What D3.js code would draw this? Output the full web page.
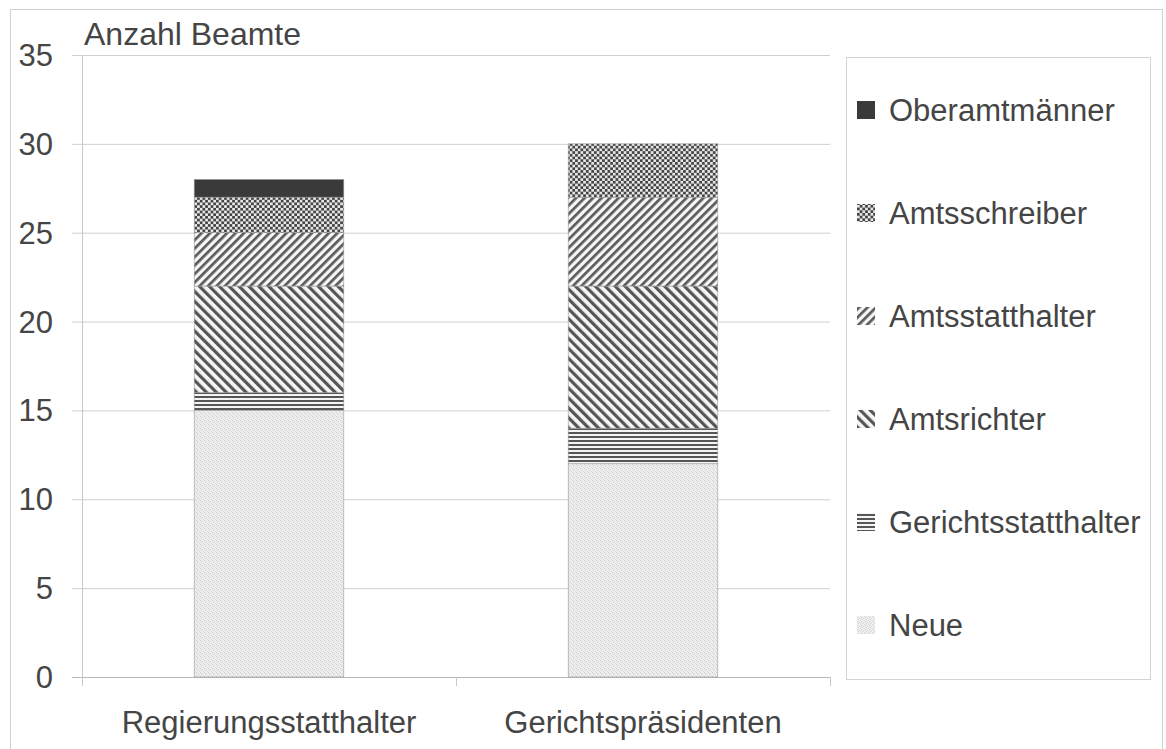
<!DOCTYPE html>
<html>
<head>
<meta charset="utf-8">
<script src="https://cdn.jsdelivr.net/npm/d3@7"></script>
<style>
  body { margin: 0; background: #fff; }
  svg text { font-family: "Liberation Sans", Arial, sans-serif; fill: #454545; }
</style>
</head>
<body>
<div id="chart"></div>
<script>
/* chart data */
var categories = ["Regierungsstatthalter", "Gerichtspräsidenten"];
var series_Names = ["Neue", "Gerichtsstatthalter", "Amtsrichter", "Amtsstatthalter", "Amtsschreiber", "Oberamtmänner"];
var neue = [15, 12];
var gerichtsstatthalter = [1, 2];
var amtsrichter = [6, 8];
var amtsstatthalter = [3, 5];
var amtsschreiber = [2, 3];
var oberamtmaenner = [1, 0];
var y_Ticks = [0, 5, 10, 15, 20, 25, 30, 35];

var series_Values = [neue, gerichtsstatthalter, amtsrichter, amtsstatthalter, amtsschreiber, oberamtmaenner];

var table = categories.map(function(c, i){
	var row = { category: c };
	series_Names.forEach(function(s, j){ row[s] = series_Values[j][i]; });
	return row;
});

var chart_Width = 1166, chart_Height = 749;
var plot_Left = 82, plot_Right = 830, plot_Top = 55, plot_Bottom = 677;

var svg = d3.select("#chart").append("svg")
	.attr("width", chart_Width)
	.attr("height", chart_Height);

/* fill patterns */
var defs = svg.append("defs");

var p = defs.append("pattern").attr("id", "pat_Neue").attr("patternUnits", "userSpaceOnUse")
	.attr("width", 4).attr("height", 4);
p.append("rect").attr("width", 4).attr("height", 4).attr("fill", "#eeeeee");
p.append("rect").attr("x", 0).attr("y", 0).attr("width", 1).attr("height", 1).attr("fill", "#cccccc");
p.append("rect").attr("x", 2).attr("y", 1).attr("width", 1).attr("height", 1).attr("fill", "#d6d6d6");
p.append("rect").attr("x", 1).attr("y", 2).attr("width", 1).attr("height", 1).attr("fill", "#d0d0d0");
p.append("rect").attr("x", 3).attr("y", 3).attr("width", 1).attr("height", 1).attr("fill", "#dadada");

p = defs.append("pattern").attr("id", "pat_Gericht").attr("patternUnits", "userSpaceOnUse")
	.attr("width", 8).attr("height", 4);
p.append("rect").attr("width", 8).attr("height", 4).attr("fill", "#f4f4f4");
p.append("rect").attr("y", 0).attr("width", 8).attr("height", 2).attr("fill", "#555");

/* "\" lines */
p = defs.append("pattern").attr("id", "pat_Richter").attr("patternUnits", "userSpaceOnUse")
	.attr("width", 7).attr("height", 7).attr("patternTransform", "rotate(-45)");
p.append("rect").attr("width", 7).attr("height", 7).attr("fill", "#f6f6f6");
p.append("rect").attr("width", 3.2).attr("height", 7).attr("fill", "#555");

/* "/" lines */
p = defs.append("pattern").attr("id", "pat_Statthalter").attr("patternUnits", "userSpaceOnUse")
	.attr("width", 6).attr("height", 6).attr("patternTransform", "rotate(45)");
p.append("rect").attr("width", 6).attr("height", 6).attr("fill", "#f6f6f6");
p.append("rect").attr("width", 2.7).attr("height", 6).attr("fill", "#5a5a5a");

p = defs.append("pattern").attr("id", "pat_Schreiber").attr("patternUnits", "userSpaceOnUse")
	.attr("width", 5.4).attr("height", 5.4);
p.append("rect").attr("width", 5.4).attr("height", 5.4).attr("fill", "#e8e8e8");
p.append("rect").attr("x", 0).attr("y", 0).attr("width", 2.7).attr("height", 2.7).attr("fill", "#444");
p.append("rect").attr("x", 2.7).attr("y", 2.7).attr("width", 2.7).attr("height", 2.7).attr("fill", "#444");

var fills = {
	"Neue": "url(#pat_Neue)",
	"Gerichtsstatthalter": "url(#pat_Gericht)",
	"Amtsrichter": "url(#pat_Richter)",
	"Amtsstatthalter": "url(#pat_Statthalter)",
	"Amtsschreiber": "url(#pat_Schreiber)",
	"Oberamtmänner": "#3a3a3a"
};

/* outer frame */
svg.append("rect")
	.attr("x", 10.5).attr("y", 9.5)
	.attr("width", 1152).attr("height", 760)
	.attr("fill", "none").attr("stroke", "#d0d0d0");

/* scales */
var x = d3.scaleBand().domain(categories).range([plot_Left, plot_Right])
	.paddingInner(0.6).paddingOuter(0.3);
var y = d3.scaleLinear().domain([0, 35]).range([plot_Bottom, plot_Top]);

/* gridlines */
svg.append("g").selectAll("line").data(y_Ticks).enter().append("line")
	.attr("x1", plot_Left - 10).attr("x2", plot_Right)
	.attr("y1", function(d){ return y(d) + 0.5; })
	.attr("y2", function(d){ return y(d) + 0.5; })
	.attr("stroke", function(d){ return d == 0 ? "#b8b8b8" : "#cfcfcf"; })
	.attr("stroke-width", 1);

/* y axis line */
svg.append("line")
	.attr("x1", plot_Left + 0.5).attr("x2", plot_Left + 0.5)
	.attr("y1", y(35)).attr("y2", y(0))
	.attr("stroke", "#c8c8c8");

/* x category ticks */
var x_Edges = [plot_Left, plot_Left + x.step(), plot_Right];
svg.append("g").selectAll("line").data(x_Edges).enter().append("line")
	.attr("x1", function(d){ return d + 0.5; }).attr("x2", function(d){ return d + 0.5; })
	.attr("y1", y(0)).attr("y2", y(0) + 9)
	.attr("stroke", "#c8c8c8");

/* y tick labels */
svg.append("g").selectAll("text").data(y_Ticks).enter().append("text")
	.attr("x", 53)
	.attr("y", function(d){ return y(d) + 11; })
	.attr("text-anchor", "end")
	.attr("font-size", 31)
	.text(function(d){ return d; });

/* title */
svg.append("text")
	.attr("x", 84).attr("y", 45)
	.attr("font-size", 32)
	.text("Anzahl Beamte");

/* category labels */
svg.append("g").selectAll("text").data(categories).enter().append("text")
	.attr("x", function(d){ return x(d) + x.bandwidth() / 2; })
	.attr("y", 733)
	.attr("text-anchor", "middle")
	.attr("font-size", 31)
	.text(function(d){ return d; });

/* stacked bars */
var stack = d3.stack().keys(series_Names)(table);

svg.append("g").selectAll("g").data(stack).enter().append("g")
	.attr("fill", function(d){ return fills[d.key]; })
	.selectAll("rect").data(function(d){ return d; }).enter()
	.filter(function(d){ return d[1] - d[0] > 0; })
	.append("rect")
	.attr("x", function(d){ return x(d.data.category); })
	.attr("width", x.bandwidth())
	.attr("y", function(d){ return y(d[1]); })
	.attr("height", function(d){ return y(d[0]) - y(d[1]); })
	.attr("stroke", "#9a9a9a")
	.attr("stroke-width", 0.6);

/* legend */
svg.append("rect")
	.attr("x", 846.5).attr("y", 57.5)
	.attr("width", 304).attr("height", 622)
	.attr("fill", "#fff").attr("stroke", "#d4d4d4");

var legend_Order = series_Names.slice().reverse();
var item = svg.append("g").selectAll("g").data(legend_Order).enter().append("g")
	.attr("transform", function(d, i){ return "translate(857," + (110 + i * 103) + ")"; });

item.append("rect")
	.attr("x", 0).attr("y", -9)
	.attr("width", 18).attr("height", 18)
	.attr("fill", function(d){ return fills[d]; });

item.append("text")
	.attr("x", 32).attr("y", 11)
	.attr("font-size", 31)
	.text(function(d){ return d; });
</script>
</body>
</html>
